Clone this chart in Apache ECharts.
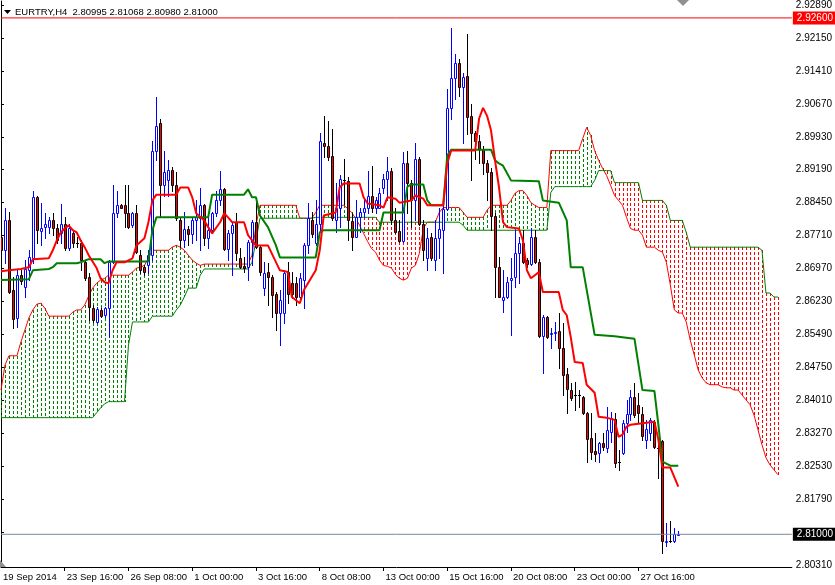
<!DOCTYPE html>
<html><head><meta charset="utf-8">
<script src="https://cdn.jsdelivr.net/npm/echarts@6/dist/echarts.min.js"></script>
<style>html,body{margin:0;padding:0;background:#fff}#c{width:835px;height:585px}</style>
</head><body><div id="c"></div>
<script>
const chartTitle = 'EURTRY,H4  2.80995 2.81068 2.80980 2.81000';
const timeLabelIndex = [0,16,32,48,64,80,96,112,128,144,160];
const timeLabels = ['19 Sep 2014','23 Sep 16:00','26 Sep 08:00','1 Oct 00:00','3 Oct 16:00','8 Oct 08:00','13 Oct 00:00','15 Oct 16:00','20 Oct 08:00','23 Oct 00:00','27 Oct 16:00'];
const priceLabels = [2.92890,2.92150,2.91410,2.90670,2.89930,2.89190,2.88450,2.87710,2.86970,2.86230,2.85490,2.84750,2.84010,2.83270,2.82530,2.81790,2.80310];
const priceTicks = [2.92890,2.92150,2.91410,2.90670,2.89930,2.89190,2.88450,2.87710,2.86970,2.86230,2.85490,2.84750,2.84010,2.83270,2.82530,2.81790,2.81050,2.80310];
const bidPrice = 2.81000;
const alertPrice = 2.92600;

const openPrices = [2.8767,2.8738,2.8805,2.8648,2.8586,2.8682,2.8655,2.8693,2.8720,2.8857,
2.8781,2.8790,2.8790,2.8807,2.8787,2.8776,2.8798,2.8742,2.8776,2.8754,
2.8754,2.8711,2.8678,2.8608,2.8577,2.8604,2.8592,2.8608,2.8711,2.8821,
2.8839,2.8839,2.8821,2.8794,2.8821,2.8727,2.8700,2.8704,2.8727,2.8962,
2.9025,2.8884,2.8895,2.8919,2.8884,2.8807,2.8760,2.8785,2.8774,2.8807,
2.8810,2.8839,2.8765,2.8783,2.8821,2.8850,2.8875,2.8740,2.8776,2.8801,
2.8720,2.8702,2.8700,2.8756,2.8801,2.8745,2.8653,2.8689,2.8678,2.8639,
2.8597,2.8597,2.8689,2.8664,2.8664,2.8633,2.8671,2.8749,2.8807,2.8754,
2.8798,2.8980,2.8973,2.8949,2.8805,2.8834,2.8895,2.8893,2.8803,2.8767,
2.8812,2.8823,2.8832,2.8859,2.8834,2.8834,2.8879,2.8897,2.8917,2.8807,
2.8781,2.8758,2.8935,2.8890,2.8850,2.8944,2.8798,2.8720,2.8767,2.8716,
2.8765,2.8783,2.8830,2.9058,2.9126,2.9159,2.9105,2.9130,2.9040,2.9002,
2.8984,2.8966,2.8935,2.8913,2.8816,2.8700,2.8626,2.8633,2.8671,2.8678,
2.8731,2.8754,2.8716,2.8707,2.8767,2.8711,2.8545,2.8588,2.8550,2.8552,
2.8557,2.8518,2.8460,2.8424,2.8413,2.8413,2.8409,2.8373,2.8317,2.8288,
2.8283,2.8306,2.8294,2.8330,2.8359,2.8263,2.8283,2.8350,2.8371,2.8409,
2.8391,2.8371,2.8312,2.8328,2.8353,2.8294,2.8310,2.8082,2.8084,2.8084,
2.80995];
const closePrices = [2.8738,2.8807,2.8644,2.8583,2.8682,2.8669,2.8696,2.8722,2.8857,2.8783,
2.8787,2.8798,2.8807,2.8787,2.8760,2.8798,2.8742,2.8787,2.8754,2.8754,
2.8716,2.8675,2.8610,2.8581,2.8606,2.8590,2.8608,2.8711,2.8821,2.8839,
2.8834,2.8821,2.8790,2.8821,2.8734,2.8693,2.8689,2.8727,2.8962,2.9018,
2.8884,2.8913,2.8919,2.8884,2.8810,2.8760,2.8785,2.8774,2.8807,2.8812,
2.8839,2.8765,2.8783,2.8821,2.8850,2.8875,2.8740,2.8776,2.8794,2.8731,
2.8700,2.8698,2.8756,2.8801,2.8745,2.8689,2.8687,2.8678,2.8637,2.8597,
2.8626,2.8687,2.8639,2.8639,2.8633,2.8675,2.8749,2.8810,2.8774,2.8798,
2.8984,2.8973,2.8947,2.8810,2.8832,2.8897,2.8895,2.8805,2.8767,2.8812,
2.8825,2.8832,2.8859,2.8832,2.8850,2.8866,2.8897,2.8917,2.8805,2.8778,
2.8758,2.8933,2.8890,2.8852,2.8944,2.8798,2.8738,2.8765,2.8720,2.8765,
2.8785,2.8830,2.9058,2.9126,2.9159,2.9105,2.9128,2.9038,2.9002,2.8984,
2.8966,2.8935,2.8913,2.8816,2.8700,2.8633,2.8633,2.8666,2.8675,2.8731,
2.8754,2.8711,2.8707,2.8767,2.8711,2.8545,2.8588,2.8543,2.8552,2.8554,
2.8518,2.8458,2.8427,2.8406,2.8413,2.8413,2.8373,2.8315,2.8285,2.8281,
2.8306,2.8297,2.8335,2.8362,2.8261,2.8263,2.8350,2.8371,2.8409,2.8368,
2.8373,2.8321,2.8337,2.8357,2.8297,2.8294,2.8084,2.8084,2.8084,2.8100,
2.81000];
const lowPrices = [2.8727,2.8709,2.8642,2.8563,2.8565,2.8662,2.8633,2.8671,2.8709,2.8754,
2.8749,2.8765,2.8776,2.8772,2.8754,2.8754,2.8738,2.8738,2.8745,2.8745,
2.8693,2.8671,2.8581,2.8577,2.8574,2.8588,2.8588,2.8543,2.8709,2.8812,
2.8832,2.8790,2.8787,2.8790,2.8731,2.8687,2.8682,2.8687,2.8716,2.8940,
2.8816,2.8861,2.8861,2.8872,2.8805,2.8745,2.8745,2.8749,2.8754,2.8760,
2.8738,2.8749,2.8742,2.8778,2.8816,2.8839,2.8738,2.8716,2.8682,2.8716,
2.8698,2.8689,2.8671,2.8704,2.8742,2.8682,2.8637,2.8615,2.8588,2.8559,
2.8525,2.8574,2.8619,2.8630,2.8615,2.8622,2.8608,2.8731,2.8767,2.8749,
2.8783,2.8947,2.8940,2.8805,2.8778,2.8790,2.8843,2.8760,2.8738,2.8767,
2.8778,2.8812,2.8821,2.8823,2.8821,2.8832,2.8866,2.8850,2.8798,2.8776,
2.8756,2.8756,2.8821,2.8790,2.8805,2.8794,2.8716,2.8693,2.8716,2.8693,
2.8720,2.8687,2.8828,2.9034,2.9078,2.9085,2.8980,2.9000,2.8895,2.8944,
2.8933,2.8910,2.8850,2.8783,2.8633,2.8633,2.8599,2.8630,2.8548,2.8655,
2.8664,2.8709,2.8700,2.8704,2.8709,2.8543,2.8463,2.8541,2.8518,2.8536,
2.8474,2.8413,2.8373,2.8402,2.8380,2.8386,2.8371,2.8263,2.8268,2.8265,
2.8263,2.8290,2.8285,2.8308,2.8252,2.8245,2.8281,2.8330,2.8357,2.8364,
2.8353,2.8312,2.8294,2.8312,2.8294,2.8227,2.8059,2.8073,2.8082,2.8082,
2.80980];
const highPrices = [2.8778,2.8832,2.8823,2.8678,2.8693,2.8693,2.8716,2.8738,2.8872,2.8861,
2.8845,2.8821,2.8812,2.8821,2.8798,2.8843,2.8812,2.8798,2.8783,2.8767,
2.8760,2.8716,2.8687,2.8615,2.8610,2.8608,2.8610,2.8716,2.8884,2.8872,
2.8841,2.8884,2.8884,2.8823,2.8839,2.8738,2.8704,2.8738,2.8984,2.9083,
2.9034,2.8962,2.8940,2.8926,2.8913,2.8810,2.8823,2.8792,2.8812,2.8850,
2.8877,2.8843,2.8821,2.8823,2.8872,2.8917,2.8877,2.8783,2.8801,2.8821,
2.8742,2.8722,2.8760,2.8805,2.8850,2.8749,2.8711,2.8709,2.8682,2.8644,
2.8648,2.8693,2.8711,2.8689,2.8678,2.8687,2.8754,2.8845,2.8823,2.8850,
2.9002,2.9040,2.9029,2.9011,2.8890,2.8906,2.8944,2.8902,2.8821,2.8850,
2.8834,2.8854,2.8917,2.8928,2.8857,2.8879,2.8910,2.8947,2.8922,2.8834,
2.8805,2.8958,2.8962,2.8895,2.8980,2.8947,2.8805,2.8787,2.8776,2.8805,
2.8834,2.8839,2.9101,2.9238,2.9179,2.9168,2.9137,2.9224,2.9067,2.9007,
2.8996,2.8973,2.8940,2.8922,2.8821,2.8722,2.8693,2.8678,2.8720,2.8783,
2.8767,2.8783,2.8720,2.8787,2.8783,2.8718,2.8592,2.8590,2.8563,2.8577,
2.8597,2.8574,2.8474,2.8440,2.8442,2.8424,2.8411,2.8375,2.8373,2.8328,
2.8308,2.8328,2.8386,2.8375,2.8373,2.8290,2.8357,2.8402,2.8424,2.8440,
2.8418,2.8386,2.8357,2.8362,2.8357,2.8301,2.8312,2.8126,2.8129,2.8115,
2.81068];

const tenkanIdx = [0,2,5,7,8,12,13,14,15,16,17,18,19,20,21,22,24,25,26,27,28,29,31,33,34,36,37,38,39,44,45,47,48,49,51,52,53,55,56,57,58,61,62,64,67,70,72,73,75,76,79,80,81,84,85,86,90,91,92,95,96,97,99,100,103,104,106,107,111,112,113,119,120,121,122,123,124,125,126,127,130,131,132,133,134,135,136,140,141,142,143,144,146,147,149,150,152,154,155,156,157,158,164,165,166,168,170];
const tenkanVal = [2.8691,2.8693,2.8696,2.8700,2.8718,2.8720,2.8738,2.8760,2.8778,2.8787,2.8794,2.8783,2.8778,2.8760,2.8745,2.8727,2.8698,2.8675,2.8666,2.8664,2.8693,2.8711,2.8711,2.8720,2.8749,2.8765,2.8801,2.8850,2.8863,2.8863,2.8879,2.8879,2.8857,2.8821,2.8805,2.8790,2.8776,2.8801,2.8821,2.8812,2.8801,2.8801,2.8772,2.8749,2.8749,2.8693,2.8689,2.8633,2.8619,2.8648,2.8693,2.8738,2.8816,2.8823,2.8879,2.8888,2.8888,2.8857,2.8843,2.8839,2.8834,2.8857,2.8854,2.8845,2.8850,2.8861,2.8854,2.8839,2.8839,2.8933,2.8962,2.8962,2.9034,2.9058,2.9040,2.9007,2.8940,2.8879,2.8801,2.8790,2.8787,2.8760,2.8693,2.8675,2.8682,2.8689,2.8644,2.8644,2.8604,2.8592,2.8543,2.8487,2.8485,2.8436,2.8418,2.8364,2.8362,2.8357,2.8319,2.8324,2.8342,2.8346,2.8353,2.8312,2.8250,2.8250,2.8207];

const kijunIdx = [0,7,8,12,13,14,19,20,22,25,26,27,37,38,39,52,53,61,62,63,64,65,67,69,70,79,80,81,95,96,101,102,103,106,107,108,111,112,113,123,124,125,126,128,135,136,140,142,143,146,149,154,159,161,164,165,166,168,170];
const kijunVal = [2.8671,2.8673,2.8693,2.8696,2.8700,2.8709,2.8709,2.8711,2.8718,2.8718,2.8709,2.8713,2.8713,2.8783,2.8812,2.8812,2.8863,2.8863,2.8875,2.8857,2.8857,2.8816,2.8790,2.8749,2.8722,2.8722,2.8778,2.8783,2.8783,2.8823,2.8823,2.8881,2.8886,2.8886,2.8850,2.8839,2.8839,2.8951,2.8964,2.8964,2.8940,2.8933,2.8928,2.8895,2.8893,2.8850,2.8845,2.8805,2.8700,2.8700,2.8548,2.8545,2.8539,2.8424,2.8422,2.8346,2.8263,2.8254,2.8254];

const senkouA = [2.8424,2.8480,2.8501,2.8501,2.8501,2.8532,2.8559,2.8586,2.8604,2.8617,
2.8619,2.8608,2.8590,2.8590,2.8590,2.8590,2.8590,2.8590,2.8599,2.8604,
2.8604,2.8615,2.8635,2.8653,2.8664,2.8671,2.8675,2.8682,2.8682,2.8682,
2.8682,2.8682,2.8682,2.8689,2.8698,2.8700,2.8704,2.8720,2.8738,2.8738,
2.8738,2.8738,2.8738,2.8745,2.8749,2.8745,2.8738,2.8727,2.8716,2.8709,
2.8704,2.8707,2.8707,2.8707,2.8707,2.8707,2.8707,2.8707,2.8707,2.8707,
2.8707,2.8707,2.8707,2.8727,2.8794,2.8839,2.8839,2.8839,2.8839,2.8839,
2.8839,2.8839,2.8839,2.8839,2.8839,2.8810,2.8810,2.8810,2.8810,2.8823,
2.8839,2.8839,2.8839,2.8839,2.8839,2.8839,2.8839,2.8832,2.8823,2.8810,
2.8794,2.8776,2.8758,2.8742,2.8734,2.8716,2.8704,2.8702,2.8698,2.8684,
2.8675,2.8671,2.8675,2.8698,2.8704,2.8731,2.8787,2.8801,2.8801,2.8801,
2.8823,2.8834,2.8834,2.8834,2.8834,2.8834,2.8823,2.8812,2.8812,2.8812,
2.8812,2.8812,2.8828,2.8839,2.8839,2.8839,2.8839,2.8839,2.8850,2.8866,
2.8872,2.8872,2.8861,2.8845,2.8839,2.8834,2.8834,2.8834,2.8962,2.8962,
2.8962,2.8962,2.8962,2.8962,2.8962,2.8962,2.8989,2.9014,2.8996,2.8962,
2.8940,2.8922,2.8906,2.8884,2.8861,2.8850,2.8839,2.8812,2.8787,2.8783,
2.8783,2.8772,2.8745,2.8745,2.8745,2.8738,2.8734,2.8711,2.8660,2.8604,
2.8597,2.8597,2.8577,2.8536,2.8503,2.8469,2.8451,2.8440,2.8436,2.8436,
2.8436,2.8431,2.8429,2.8429,2.8424,2.8424,2.8413,2.8402,2.8391,2.8368,
2.8335,2.8301,2.8272,2.8256,2.8245,2.8234];
const senkouB = [2.8362,2.8362,2.8362,2.8362,2.8362,2.8362,2.8362,2.8362,2.8362,2.8362,
2.8362,2.8362,2.8362,2.8362,2.8362,2.8362,2.8362,2.8362,2.8362,2.8362,
2.8362,2.8362,2.8362,2.8362,2.8373,2.8384,2.8393,2.8398,2.8398,2.8398,
2.8398,2.8398,2.8525,2.8577,2.8577,2.8577,2.8577,2.8577,2.8590,2.8590,
2.8590,2.8590,2.8590,2.8590,2.8604,2.8615,2.8633,2.8653,2.8653,2.8653,
2.8682,2.8696,2.8696,2.8696,2.8696,2.8696,2.8696,2.8696,2.8696,2.8696,
2.8696,2.8696,2.8696,2.8711,2.8760,2.8810,2.8810,2.8810,2.8810,2.8810,
2.8810,2.8810,2.8810,2.8810,2.8810,2.8810,2.8810,2.8810,2.8810,2.8812,
2.8812,2.8812,2.8812,2.8812,2.8812,2.8812,2.8812,2.8812,2.8812,2.8812,
2.8812,2.8812,2.8812,2.8812,2.8812,2.8801,2.8801,2.8801,2.8801,2.8801,
2.8801,2.8801,2.8801,2.8801,2.8801,2.8801,2.8801,2.8801,2.8801,2.8801,
2.8801,2.8801,2.8801,2.8801,2.8801,2.8801,2.8794,2.8783,2.8783,2.8783,
2.8783,2.8783,2.8783,2.8783,2.8783,2.8783,2.8783,2.8783,2.8783,2.8783,
2.8783,2.8783,2.8783,2.8783,2.8783,2.8783,2.8783,2.8783,2.8868,2.8881,
2.8881,2.8881,2.8881,2.8881,2.8881,2.8881,2.8881,2.8881,2.8881,2.8895,
2.8917,2.8917,2.8917,2.8917,2.8890,2.8890,2.8890,2.8890,2.8890,2.8890,
2.8890,2.8850,2.8850,2.8850,2.8850,2.8850,2.8850,2.8839,2.8805,2.8805,
2.8805,2.8805,2.8778,2.8745,2.8745,2.8745,2.8745,2.8745,2.8745,2.8745,
2.8745,2.8745,2.8745,2.8745,2.8745,2.8745,2.8745,2.8745,2.8745,2.8745,
2.8745,2.8738,2.8642,2.8642,2.8633,2.8633];

const FONT = 'Liberation Sans';
const candleData = openPrices.map((o, i) => [i, o, closePrices[i], lowPrices[i], highPrices[i]]);
const cloudData = senkouA.map((a, i) => [i, a, senkouB[i]]);
const pairs = (idx, val) => idx.map((x, k) => [x, val[k]]);
const X_MAX = 198.5;

const chart = echarts.init(document.getElementById('c'), null, {renderer: 'canvas'});
chart.setOption({
  animation: false,
  backgroundColor: '#ffffff',
  grid: {left: 0, right: 41, top: 0, bottom: 18, containLabel: false},
  xAxis: {
    type: 'value', min: 0, max: X_MAX,
    splitLine: {show: false},
    axisLine: {show: true, onZero: false, lineStyle: {color: '#000', width: 1}},
    axisTick: {show: true, customValues: timeLabelIndex.slice(1), length: 4, lineStyle: {color: '#000'}},
    axisLabel: {
      customValues: timeLabelIndex, align: 'left', margin: 5, padding: [0, 0, 0, 2],
      fontSize: 9.5, fontFamily: FONT, color: '#000',
      formatter: v => timeLabels[timeLabelIndex.indexOf(Math.round(v))] || ''
    }
  },
  yAxis: {
    type: 'value', position: 'right', min: 2.80265, max: 2.92980, scale: true,
    splitLine: {show: false},
    axisLine: {show: true, lineStyle: {color: '#000', width: 1}},
    axisTick: {show: true, customValues: priceTicks, length: 3, lineStyle: {color: '#000'}},
    axisLabel: {
      customValues: priceLabels, margin: 4, fontSize: 10, fontFamily: FONT, color: '#000',
      formatter: v => v.toFixed(5)
    }
  },
  series: [
    {
      type: 'custom', name: 'kumo', z: 1, clip: true, silent: true,
      data: cloudData,
      renderItem: (params, api) => {
        const i = api.value(0), a = api.value(1), b = api.value(2);
        const pa = api.coord([i, a]), pb = api.coord([i, b]);
        const x = Math.round(pa[0]);
        const y1 = Math.round(Math.min(pa[1], pb[1])), y2 = Math.round(Math.max(pa[1], pb[1]));
        const color = a >= b ? '#008000' : '#ff0000';
        const children = [];
        for (let y = y1; y < y2; y += 5) {
          children.push({type: 'rect', shape: {x: x, y: y, width: 1, height: Math.min(3, y2 - y)},
            style: {fill: color}});
        }
        return {type: 'group', children};
      }
    },
    {type: 'line', name: 'Senkou A', z: 2, data: pairs(senkouA.map((_, i) => i), senkouA), showSymbol: false,
      lineStyle: {color: '#ff0000', width: 1}, silent: true},
    {type: 'line', name: 'Senkou B', z: 2, data: pairs(senkouB.map((_, i) => i), senkouB), showSymbol: false,
      lineStyle: {color: '#008000', width: 1}, silent: true},
    {
      type: 'custom', name: 'EURTRY', z: 3, clip: true, silent: true,
      data: candleData,
      renderItem: (params, api) => {
        const i = api.value(0), o = api.value(1), c = api.value(2), l = api.value(3), h = api.value(4);
        const pO = api.coord([i, o]), pC = api.coord([i, c]), pL = api.coord([i, l]), pH = api.coord([i, h]);
        const cx = Math.round(pO[0]);
        const bull = c > o, doji = c === o;
        const edge = bull ? '#0000ff' : '#000000';
        const children = [{type: 'rect', shape: {x: cx, y: Math.round(pH[1]), width: 1, height: Math.max(1, Math.round(pL[1]) - Math.round(pH[1]) + 1)},
          style: {fill: edge}}];
        if (doji) {
          children.push({type: 'rect', shape: {x: cx - 1, y: Math.round(pO[1]), width: 3, height: 1}, style: {fill: '#000'}});
        } else {
          const top = Math.round(Math.min(pO[1], pC[1]));
          const bot = Math.round(Math.max(pO[1], pC[1]));
          children.push({type: 'rect', shape: {x: cx - 0.5, y: top + 0.5, width: 2, height: Math.max(1, bot - top)},
            style: {fill: bull ? '#ffffff' : '#ff0000', stroke: edge, lineWidth: 1}});
        }
        return {type: 'group', children};
      }
    },
    {type: 'line', name: 'Kijun-sen', z: 4, data: pairs(kijunIdx, kijunVal), showSymbol: false,
      lineStyle: {color: '#008000', width: 2}, silent: true},
    {type: 'line', name: 'Tenkan-sen', z: 5, data: pairs(tenkanIdx, tenkanVal), showSymbol: false,
      lineStyle: {color: '#ff0000', width: 2}, silent: true},
    {type: 'line', name: 'Alert', z: 6, data: [[0, alertPrice], [X_MAX, alertPrice]], showSymbol: false, silent: true,
      lineStyle: {color: '#ff0000', width: 1},
      endLabel: {show: true, distance: 1, formatter: () => alertPrice.toFixed(5), backgroundColor: '#ff0000',
        color: '#ffffff', padding: [2, 3, 1, 4], fontSize: 10, fontFamily: FONT}},
    {type: 'line', name: 'Bid', z: 6, data: [[0, bidPrice], [X_MAX, bidPrice]], showSymbol: false, silent: true,
      lineStyle: {color: '#778899', width: 1},
      endLabel: {show: true, distance: 1, formatter: () => bidPrice.toFixed(5), backgroundColor: '#000000',
        color: '#ffffff', padding: [2, 3, 1, 4], fontSize: 10, fontFamily: FONT}}
  ],
  graphic: [
    {type: 'polygon', left: 4, top: 10, shape: {points: [[0, 0], [7, 0], [3.5, 4]]}, style: {fill: '#000'}, z: 100},
    {type: 'text', left: 15, top: 7, style: {text: chartTitle, fontSize: 9.5, fontFamily: FONT, fill: '#000'}, z: 100},
    {type: 'polygon', left: 677, top: 0, shape: {points: [[0, 0], [12, 0], [6, 6]]}, style: {fill: '#909090'}, z: 100},
    {type: 'polygon', left: 0, top: 560, shape: {points: [[0, 0], [6, 7], [0, 7]]}, style: {fill: '#909090'}, z: 100}
  ]
});
</script>
</body></html>
